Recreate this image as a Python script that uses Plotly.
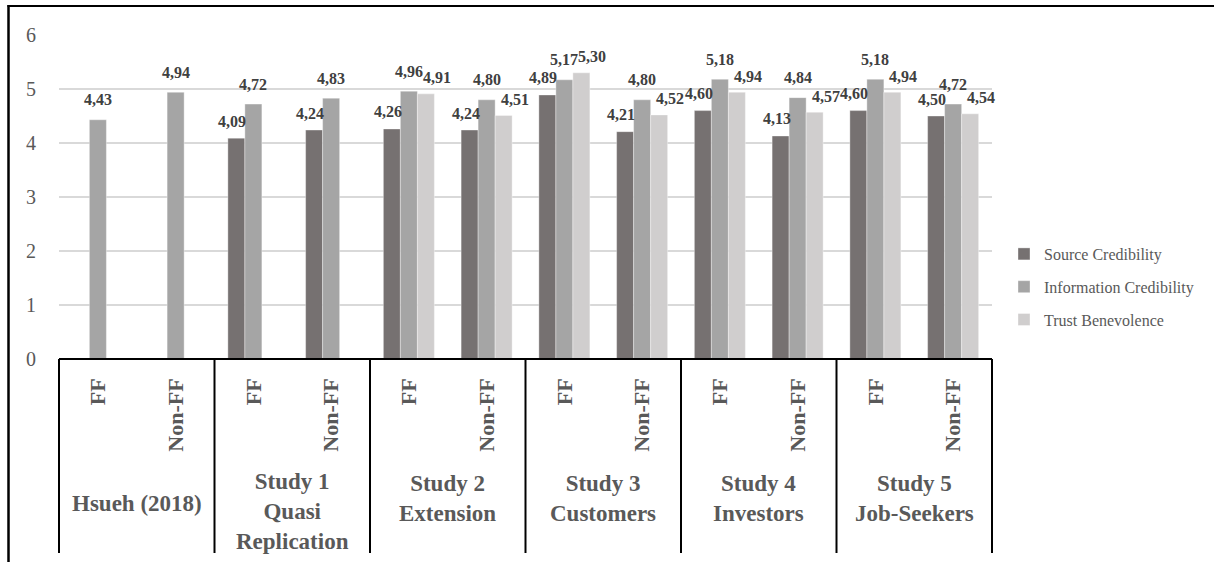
import plotly.graph_objects as go

# ---------------- data ----------------
studies = ["Hsueh (2018)", "Study 1<br>Quasi<br>Replication", "Study 2<br>Extension",
           "Study 3<br>Customers", "Study 4<br>Investors", "Study 5<br>Job-Seekers"]
conditions = ["FF", "Non-FF"] * 6
series_names = ["Source Credibility", "Information Credibility", "Trust Benevolence"]
source_cred = [None, None, 4.09, 4.24, 4.26, 4.24, 4.89, 4.21, 4.60, 4.13, 4.60, 4.50]
info_cred = [4.43, 4.94, 4.72, 4.83, 4.96, 4.80, 5.17, 4.80, 5.18, 4.84, 5.18, 4.72]
trust_benev = [None, None, None, None, 4.91, 4.51, 5.30, 4.52, 4.94, 4.57, 4.94, 4.54]
y_ticks = [0, 1, 2, 3, 4, 5, 6]

# ---------------- style ----------------
colors = ["#767171", "#A5A5A5", "#D0CECE"]
FONT = "Liberation Serif"
AX_COL = "#595959"
LBL_COL = "#404040"
BARGAP = 0.344
n = len(conditions)
x_idx = list(range(n))
XMIN, XMAX = -0.5, n - 0.5

# plot area in pixels
W, H = 1214, 562
L, R, T, B = 59, 222, 35, 203
PW, PH = W - L - R, H - T - B


def px_to_py(py):
    return (H - B - py) / PH


def px_to_px(px):
    return (px - L) / PW


fig = go.Figure()
all_series = [source_cred, info_cred, trust_benev]
for name, vals, col in zip(series_names, all_series, colors):
    fig.add_trace(go.Bar(
        x=x_idx, y=vals, name=name, legendgroup=name,
        marker=dict(color=col, line=dict(color="rgba(255,255,255,0.6)", width=0.6)),
        hoverinfo="y",
    ))

# data labels (Excel-like placement)
barw = (1 - BARGAP) / 3
label_xshift = [-4, 0, 11]
label_yshift = [17, 20, 16]
annotations = []
for k, vals in enumerate(all_series):
    for i, v in enumerate(vals):
        if v is None:
            continue
        annotations.append(dict(
            x=i + (k - 1) * barw, y=v, xref="x", yref="y",
            text="<b>" + f"{v:.2f}".replace(".", ",") + "</b>",
            showarrow=False, xshift=label_xshift[k], yshift=label_yshift[k], yanchor="middle",
            font=dict(family=FONT, size=16, color=LBL_COL),
        ))

# study (outer category) labels
center_by_lines = {1: 503, 2: 498.5, 3: 511.5}
for j, s in enumerate(studies):
    nlines = s.count("<br>") + 1
    annotations.append(dict(
        x=2 * j + 0.5, y=px_to_py(center_by_lines[nlines]), xref="x", yref="paper",
        yanchor="middle", text="<b>" + s + "</b>", showarrow=False,
        font=dict(family=FONT, size=23, color=AX_COL),
    ))

shapes = []
# category box: top line at zero + vertical dividers
shapes.append(dict(type="line", xref="paper", yref="paper", x0=0, x1=1, y0=0, y1=0,
                   line=dict(color="black", width=2)))
for j in range(len(studies) + 1):
    xd = -0.5 + 2 * j
    xp = (xd - XMIN) / (XMAX - XMIN)
    shapes.append(dict(type="line", xref="paper", yref="paper", x0=xp, x1=xp,
                       y0=0, y1=px_to_py(553), line=dict(color="black", width=2)))
# outer frame (left and top)
shapes.append(dict(type="line", xref="paper", yref="paper",
                   x0=px_to_px(8.5), x1=px_to_px(8.5), y0=px_to_py(5), y1=px_to_py(570),
                   line=dict(color="black", width=2.5)))
shapes.append(dict(type="line", xref="paper", yref="paper",
                   x0=px_to_px(7.5), x1=px_to_px(1220), y0=px_to_py(6), y1=px_to_py(6),
                   line=dict(color="black", width=2)))

fig.update_layout(
    width=W, height=H,
    margin=dict(l=L, r=R, t=T, b=B, pad=0),
    paper_bgcolor="white", plot_bgcolor="white",
    barmode="group", bargap=BARGAP, bargroupgap=0,
    font=dict(family=FONT, color=AX_COL),
    annotations=annotations,
    shapes=shapes,
    legend=dict(
        x=px_to_px(1004), xanchor="left", y=px_to_py(287), yanchor="middle",
        font=dict(family=FONT, size=16, color=AX_COL),
        tracegroupgap=9, bgcolor="rgba(0,0,0,0)",
    ),
    xaxis=dict(
        range=[XMIN, XMAX], tickmode="array", tickvals=x_idx, ticktext=conditions,
        tickangle=-90, ticks="", showgrid=False, zeroline=False, showline=False,
        tickfont=dict(family=FONT, size=22, color=AX_COL, weight="bold"),
        ticklabelstandoff=14, fixedrange=True,
    ),
    yaxis=dict(
        range=[0, 6], tickmode="array", tickvals=y_ticks, ticks="",
        showgrid=True, gridcolor="#D9D9D9", gridwidth=1.5, zeroline=False, showline=False,
        tickfont=dict(family=FONT, size=20, color=AX_COL),
        ticklabelstandoff=22, fixedrange=True,
    ),
)

fig.write_html("out.html", config={"displayModeBar": False})
